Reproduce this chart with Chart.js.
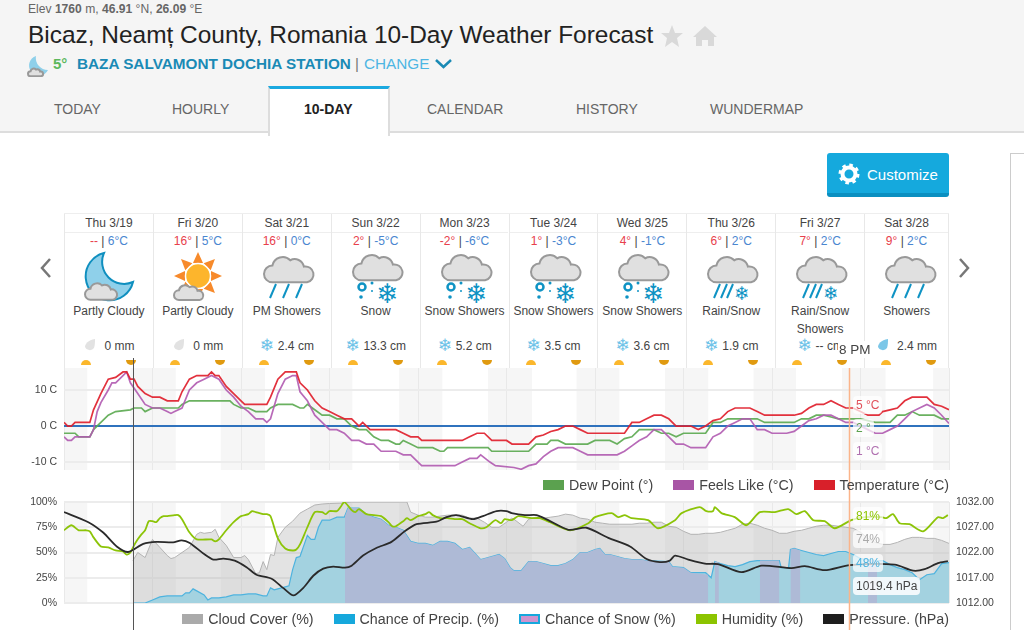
<!DOCTYPE html>
<html>
<head>
<meta charset="utf-8">
<title>Bicaz 10-Day Weather Forecast</title>
<script src="https://cdn.jsdelivr.net/npm/chart.js@4"></script>
<style>
    html, body { margin: 0; padding: 0; background: #fff; overflow: hidden; }
    body { width: 1024px; height: 630px; position: relative; font-family: "Liberation Sans", Arial, sans-serif; color: #333; }
    .abs { position: absolute; white-space: nowrap; }
    #header { position: absolute; left: 0; top: 0; width: 1024px; height: 131px; background: #f5f5f5; border-bottom: 2px solid #ddd; }
    .tab { position: absolute; top: 101px; font-size: 14px; color: #666; }
    #activeTab { position: absolute; left: 268px; top: 86px; width: 118px; height: 47px; background: #fff; border: 2px solid #ddd; border-top: 3px solid #1ba9e0; border-bottom: none; }
    #customize { position: absolute; left: 827px; top: 153px; width: 122px; height: 40px; background: #15a9dd; border-bottom: 4px solid #0b8fc0; border-radius: 3px; color: #fff; font-size: 15px; line-height: 43px; }
    #sidebar { position: absolute; left: 1010px; top: 153px; width: 14px; height: 477px; border-left: 1px solid #ccc; border-top: 1px solid #ccc; }
    #days { position: absolute; left: 64px; top: 213px; width: 885px; height: 154px; border-top: 1px solid #eee; }
    .day { position: absolute; top: 0; height: 154px; border-left: 1px solid #e8e8e8; box-sizing: border-box; text-align: center; font-size: 12px; color: #444; }
    .day:last-child { border-right: 1px solid #e8e8e8; }
    .date { height: 18px; line-height: 18px; border-bottom: 1px solid #eee; }
    .hilo { position: absolute; left: 0; right: 0; top: 20px; }
    .hi { color: #e8404c; }
    .lo { color: #4a86d0; }
    .icon { position: absolute; left: 20px; top: 36px; width: 50px; height: 50px; overflow: visible; }
    .cond { position: absolute; left: 0; right: 0; top: 88px; line-height: 18px; }
    .amount { position: absolute; left: 0; right: 0; top: 124px; }
    .flake { color: #6fc3e8; font-size: 17px; line-height: 14px; vertical-align: -1px; font-family: "DejaVu Sans"; margin-right: 4px; }
    .sun { position: absolute; top: 145px; }
    canvas { position: absolute; left: 0; }
    .legend { position: absolute; right: 75px; display: flex; font-size: 14.25px; color: #444; line-height: 16px; }
    .legend span.item { margin-left: 20px; display: flex; align-items: center; }
    .legend i { display: inline-block; width: 21px; height: 10px; margin-right: 5px; box-sizing: border-box; }
    .tip { position: absolute; background: rgba(255,255,255,.72); border-radius: 4px; padding: 2px 3px; font-size: 12px; line-height: 14px; white-space: nowrap; }
</style>
</head>
<body>
<script>
// Forecast table
const dayLabels = ['Thu 3/19', 'Fri 3/20', 'Sat 3/21', 'Sun 3/22', 'Mon 3/23', 'Tue 3/24', 'Wed 3/25', 'Thu 3/26', 'Fri 3/27', 'Sat 3/28'];
const dayHighs = ['--', '16°', '16°', '2°', '-2°', '1°', '4°', '6°', '7°', '9°'];
const dayLows = ['6°C', '5°C', '0°C', '-5°C', '-6°C', '-3°C', '-1°C', '2°C', '2°C', '2°C'];
const dayConditions = ['Partly Cloudy', 'Partly Cloudy', 'PM Showers', 'Snow', 'Snow Showers', 'Snow Showers', 'Snow Showers', 'Rain/Snow', 'Rain/Snow<br>Showers', 'Showers'];
const dayIcons = ['moon', 'sun', 'rain', 'snow', 'snow', 'snow', 'snow', 'mix', 'mix', 'rain'];
const dayAmounts = ['0 mm', '0 mm', '2.4 cm', '13.3 cm', '5.2 cm', '3.5 cm', '3.6 cm', '1.9 cm', '-- cm', '2.4 mm'];

// Hourly series, each point is [hour since start, value]
const temperature = [[0,1],[1,0],[2,0],[3,1],[7,1],[8,4.5],[10,9],[12,13],[14,13.5],[16,15],[17,15],[18,13],[19,13],[20,11],[22,9],[24,8],[26,8],[28,7],[31,7],[32,9.5],[34,13],[36,14],[39,14],[40,15],[41,14],[42,14],[44,11],[46,9],[48,7],[49,6],[55,6],[56,8],[58,13],[60,15],[63,15],[64,12],[66,10],[68,7],[70,5],[72,4],[74,3],[76,2],[78,2],[80,0],[81,1],[83,-1],[90,-1],[92,-2],[94,-3],[96,-3],[97,-4],[108,-4],[110,-3],[112,-2],[114,-2],[116,-4],[120,-4],[121.5,-5],[126,-5],[128,-3],[130,-2.5],[132,-1.5],[134,-1],[136,0],[138,0],[140,-1],[142,-2],[152,-2],[154,1],[156,1],[158,2],[160,3],[162,3],[164,2],[166,0],[170,0],[172,-1],[174,0],[176,1.5],[178,2],[180,4],[182,5],[186,5],[188,4],[190,3],[198,3],[200,3.5],[202,5],[204,6],[206,6],[208,7],[210,6],[212,5],[214,5],[216,4],[218,3],[221,3],[222,4],[224,4.5],[226,5],[228,7],[230,8],[234,8],[236,6],[238,5.5],[240,4.5]];
const feelsLike = [[0,-3],[1,-4],[2,-4],[3,-3],[7,-3],[8,-1],[9,4],[10,6.5],[12,10],[13,12],[14,12],[16,14],[17,15],[18,12],[20,9],[22,6],[24,5],[26,5],[28,4],[29,3.5],[30,4],[32,5],[34,10],[36,12],[38,13],[40,14],[42,13],[44,10],[46,8],[48,5.5],[50,4],[52,2],[54,2],[55,1],[56,2],[58,9],[60,13],[62,14],[63,14],[64,9.5],[66,7],[68,3],[70,1],[72,-1],[74,-1],[76,-2],[78,-4],[80,-4],[82,-5],[84,-5],[86,-7],[90,-7],[92,-8],[94,-8],[96,-10],[97,-11],[106,-11],[108,-10],[110,-9],[112,-9],[113,-8],[115.5,-10],[117,-11],[122,-11.5],[124,-12],[126,-11],[128,-10.5],[130,-8.5],[132,-7],[134,-6],[138,-6],[140,-7],[142,-8],[150,-8],[152,-7],[154,-5.5],[156,-4],[158,-3],[160,-1],[162,-1],[164,-3],[166,-5],[168,-5],[170,-6],[174,-6],[176,-3],[178,-2],[180,0],[182,1],[184,2],[186,2],[188,-1],[190,-1],[192,-2],[196,-2],[198,-1.5],[200,0],[202,1.5],[204,2],[206,3],[208,3],[210,2],[212,1],[214,1],[216,0],[218,-1],[220,-2],[222,-2],[224,-1],[226,0],[228,2],[230,4],[232,5],[234,6],[236,5],[238,3],[240,0.7]];
const dewPoint = [[0,-2],[3,-2],[4,-3],[7,-3],[8,-1],[10,1],[12,3],[14,4],[18,4.5],[19,5],[21,5],[22,4],[24,5],[31,5],[32,6],[34,7],[45,7],[46,6],[48,5],[50,5],[52,4],[55,4],[56,5],[58,6],[62,6],[64,5],[65,5],[66,6],[68,4.5],[70,3],[72,3],[74,2],[76,2],[78,0],[80,-1],[82,-1],[84,-3],[86,-4],[88,-4],[90,-5],[91,-5],[92,-4],[94,-5],[96,-6],[100,-6],[102,-7],[103,-7],[104,-6],[115,-6],[116,-7],[126,-7],[128,-5],[131,-5],[132,-4],[134,-4],[136,-5],[142,-5],[144,-4],[148,-4],[150,-5],[152,-3.5],[154,-3],[156,-1],[160,-1],[162,-2],[164,-2],[166,-3],[168,-2],[174,-2],[176,1],[178,1],[180,2],[188,2],[190,1],[198,1],[200,2],[202,2],[204,3],[206,3],[208,2.5],[210,2],[216,2],[218,1.5],[220,1],[224,1],[226,3],[228,3],[230,4],[232,3],[236,3],[238,2],[240,2]];
const freezingLine = [[0,0],[240,0]];

const cloudCover = [[18.7,42],[20,50],[22,45],[24,63],[26,55],[28,47],[29,44],[30,45],[32,50],[34,55],[36,68],[37,70],[38,69],[40,70],[41,73],[42,65],[44,57],[46,45],[48,45],[49,47],[50,43],[52,29],[53,30],[54,41],[55,33],[56,48],[57,47],[58,65],[60,75],[62,81],[64,89],[66,93],[68,97],[70,98],[72,98.5],[76,99],[78,100],[93,100],[94,90],[96,87],[98,85],[100,85],[102,86],[104,87],[108,87],[110,84],[112,84],[114,80],[116,75],[118,75],[120,80],[121.4,84],[122,83],[124.5,76],[126,83],[128,85],[130,84],[132,85],[134,86],[136,88],[138,87],[140,84],[142,83],[144,80],[146,79],[148,78],[154,78],[156,79],[158,79],[160,80],[162,80],[164,76],[166,75],[168,71],[170,68],[172,68],[174,69],[176,69],[178,70],[180,72],[182,74],[184,78],[186,79],[188,77],[190,74],[192,72],[194,69],[196,69],[198,71],[200,72],[202,74],[204,76],[206,77],[208,77],[210,76],[212,75],[214,74],[216,70],[218,64],[220,60],[222,58],[224,58],[226,60],[228,63],[230,65],[232,65],[234,64],[236,64],[238,62],[240,59]];
const chancePrecip = [[18.7,0],[22,0],[24,3],[26,6],[28,7],[32,7],[33,10],[34,10],[35,14],[36,12],[38,8],[39,3],[40,5],[42,5],[44,6],[46,8],[48,8],[50,9],[52,9],[54,7],[55,7],[56,15],[57,13],[58,14],[60,16],[61,17],[62,33],[63,45],[64,46],[66,67],[67,63],[68,63],[69,75],[70,82],[72,82],[74,85],[76,85],[77,94],[80,94],[82,88],[84,85],[86,83],[88,77],[90,75],[92,72],[94,61],[96,59],[98,59],[100,57],[102,61],[104,61],[106,59],[108,53],[110,55],[113,43],[115,45],[118,48],[119.5,44],[121,35],[122,32],[124,32],[126,41],[128,41],[130,39],[132,37],[134,37],[136,39],[138,43],[140,50],[142,50],[144,53],[145.3,54],[146.7,48],[148,48],[150,46],[152,44],[154,43],[156,43],[158,42],[164,41],[165,36],[168,35],[170,30],[174,30],[175.5,25],[176.5,41],[178,39],[180,37],[182,36],[184,38],[186,41],[188,42],[194,42],[194.5,35],[196.5,35],[197,53],[198,54],[200,52],[202,50],[204,48],[206,47],[208,49],[210,51],[212,51],[214,48],[216,44],[218,43],[220,42],[222,42],[224,38],[226,35],[228,33],[230,30],[232,23],[234,28],[236,29],[238,39],[240,40]];
// null ends a snow stretch
const chanceSnow = [[76.2,86],[77,94],[80,94],[82,88],[84,85],[86,83],[88,77],[90,75],[92,72],[94,61],[96,59],[98,59],[100,57],[102,61],[104,61],[106,59],[108,53],[110,55],[113,43],[115,45],[118,48],[119.5,44],[121,35],[122,32],[124,32],[126,41],[128,41],[130,39],[132,37],[134,37],[136,39],[138,43],[140,50],[142,50],[144,53],[145.3,54],[146.7,48],[148,48],[150,46],[152,44],[154,43],[156,43],[158,42],[164,41],[165,36],[168,35],[170,30],[174.7,28],[175,null],[176.5,41],[177.6,40],[178,null],[188.7,42],[194,42],[194.2,null],[197,53],[198,54],[199.7,52],[200,null],[218,43],[220.5,42]];
const humidity = [[0,72],[2,77],[4,72],[6,72],[7,71],[8,65],[10,56],[12,55],[14,52],[16,51],[17,48],[18,50],[19,57],[20,63],[21,68],[22,72],[23,81],[24,81],[25,80],[26,84],[27,86],[28,86],[30,87],[31,87],[32,83],[34,70],[36,63],[40,63],[41,61],[42,63],[44,72],[46,80],[48,86],[50,88],[51,91],[52,90],[54,88],[55,88],[56,86],[58,64],[60,54],[62,52],[63,53],[64,58],[66,75],[68,90],[70,90],[71,88],[72,91],[74,91],[75,95],[76,100],[78,92],[79,90],[80,93],[82,88],[84,87],[86,86],[88,80],[89,76],[90,76],[92,81],[93,84],[94,82],[96,86],[98,88],[99,90],[100,87],[102,84],[104,84],[106,83],[108,83],[110,79],[113,74],[114.5,75],[117,82],[118.5,79],[119.5,83],[121.4,82],[123.2,86],[126.8,84],[129,84],[131.8,80],[137.2,72],[142.2,79],[144,85],[148.5,89],[150.3,85],[152.1,87],[153.9,84],[158.4,82],[161.1,74],[165.7,82],[167.5,89],[172.4,95],[174.2,91],[176,91],[176.5,95],[178.3,89],[181.9,85],[185.1,77],[188.7,90],[192.8,90],[196.4,93],[198.6,88],[200.9,91],[203.2,82],[206.3,81],[209,74],[213.5,82],[217.2,85],[221.7,85],[223,84],[224.8,88],[226.6,79],[229.3,78],[233,71],[237,85],[238.4,84],[239.7,87]];
const pressure = [[0,1030],[6.6,1028],[10.7,1025.9],[14.3,1023.2],[17.4,1022.1],[21.5,1023.7],[25.1,1024.1],[29.6,1024],[31.9,1024.4],[34.1,1023.9],[37.8,1021.8],[40.5,1020.6],[43.2,1020.8],[46.3,1020.4],[49.5,1019.1],[52.2,1017.6],[56.3,1016.8],[59.4,1015],[62.2,1013.5],[64.9,1015],[67.6,1017.4],[70.3,1018.8],[73,1019.2],[76.2,1019],[78,1019.4],[81.1,1021.4],[84.7,1022.9],[88.8,1024.1],[92.4,1026.2],[95.6,1027.6],[101,1028.1],[103.7,1029],[106.4,1029.4],[110.9,1028.6],[113.6,1029.2],[117.3,1030.2],[120,1030.2],[121.4,1029.8],[125,1029.4],[128.2,1029.4],[131.3,1028.4],[136.8,1026.5],[141.7,1026.9],[147.6,1024.9],[153.5,1023.2],[158,1020.7],[161.6,1020.1],[164.3,1020.4],[165.7,1021.4],[169.3,1020.6],[173.8,1019.8],[177.4,1019.7],[183.7,1018.1],[189.2,1019.4],[197.3,1018.9],[200.9,1019.3],[206.3,1018.5],[213.1,1019.5],[225.3,1019.6],[230.3,1018.4],[233.4,1018.7],[237,1019.9],[239.7,1020.3]];

// Night shading and axis ticks
const nightStarts = [0, 18, 42.5, 66.7, 90.9, 115, 139, 163, 187, 211, 235.7];
const nightEnds = [6.3, 30.3, 54.5, 78.2, 102.6, 126.9, 150.6, 174.7, 198.5, 222.8, 240];
const tempTicks = [-10, 0, 10];
const selectedHour = 18.7;
const hoverHour = 212.9;

const legendTop = [['Dew Point (°)', '#5ba14f', ''], ['Feels Like (°C)', '#a855a5', ''], ['Temperature (°C)', '#d8202a', '']];
const legendBottom = [['Cloud Cover (%)', '#aaaaaa', ''], ['Chance of Precip. (%)', '#16a8dc', ''], ['Chance of Snow (%)', '#cf94cf', '2px solid #16a8dc'], ['Humidity (%)', '#8cc400', ''], ['Pressure. (hPa)', '#1e1e1e', '']];

const tipsTop = [['5 °C', '#e0505a', 405], ['2 °', '#5ba14f', 428], ['1 °C', '#b070b0', 451]];
const tipsBottom = [['81%', '#8cc400', 516], ['74%', '#aaaaaa', 539], ['48%', '#4db3df', 563]];

const grey = '#e0e0e0';
const cloudSvg = (x, y, s) => `<g transform="translate(${x},${y}) scale(${s})"><path d="M8 26 a8 8 0 0 1 0-16 a10 10 0 0 1 17-5 a9 9 0 0 1 13 6 a7.5 7.5 0 0 1 3 15 z" fill="${grey}" stroke="#999" stroke-width="${2 / s}"/></g>`;
const rainSvg = (xs) => xs.map(x => `<line x1="${x + 4}" y1="34" x2="${x - 2}" y2="48" stroke="#0f93c4" stroke-width="2"/>`).join('');
const flakeSvg = (x, y, size) => `<text x="${x}" y="${y}" font-family="DejaVu Sans" font-size="${size}" fill="#0f93c4">❄</text>`;

function iconFor(kind) {
    if (kind === 'moon') {
        return `<path d="M19 3 A24 24 0 1 0 48 32 A22 22 0 0 1 19 3 z" fill="#8fd0ea" stroke="#0f8fbf" stroke-width="2"/>` + cloudSvg(0, 32, 0.68);
    }
    if (kind === 'sun') {
        const rays = [0, 45, 90, 135, 180, 225, 270, 315].map(a =>
            `<path d="M-5 -13 L0 -24 L5 -13 z" fill="#f78a2b" transform="translate(24,26) rotate(${a})"/>`).join('');
        return rays + `<circle cx="24" cy="26" r="12.5" fill="#fdb52c" stroke="#fff" stroke-width="1.5"/>` + cloudSvg(0, 34, 0.62);
    }
    if (kind === 'rain') return cloudSvg(1, 5, 1.05) + rainSvg([9, 22, 35]);
    if (kind === 'mix') return cloudSvg(1, 5, 1.05) + rainSvg([9, 16, 22]) + flakeSvg(27, 50, 19);
    // snow
    return cloudSvg(1, 3, 1.05) + flakeSvg(24, 53, 27) + `<circle cx="10" cy="37" r="3.5" fill="none" stroke="#0f93c4" stroke-width="2.5"/><circle cx="20" cy="33" r="1.5" fill="#0f93c4"/><circle cx="9" cy="47" r="1.8" fill="#0f93c4"/><circle cx="20" cy="41" r="1" fill="#0f93c4"/>`;
}

function buildHeader() {
    const moon = `<svg class="abs" style="left:27px;top:55px" width="22" height="22"><path d="M9 1 A10 10 0 1 0 21 15 A12 12 0 0 1 9 1 z" fill="#8fd0ea"/>${cloudSvg(1, 13, 0.32)}</svg>`;
    document.body.insertAdjacentHTML('beforeend', `
    <div id="header">
        <div class="abs" style="left:28px;top:2px;font-size:12.1px;color:#666">Elev <b>1760</b> m, <b>46.91</b> °N, <b>26.09</b> °E</div>
        <div class="abs" style="left:28px;top:21px;font-size:24.45px;color:#222">Bicaz, Neamț County, Romania 10-Day Weather Forecast</div>
        <svg class="abs" style="left:660px;top:24px" width="60" height="24">
            <path d="M12 1 L15 9 L23 9 L17 14 L19 23 L12 18 L5 23 L7 14 L1 9 L9 9 z" fill="#d9d9d9"/>
            <path d="M45 2 L57 13 L54 13 L54 22 L48 22 L48 16 L42 16 L42 22 L36 22 L36 13 L33 13 z" fill="#d9d9d9"/>
        </svg>
        ${moon}
        <div class="abs" style="left:53px;top:55px;font-size:15px;font-weight:bold;color:#5cb85c">5°</div>
        <div class="abs" style="left:77px;top:55px;font-size:15.3px;font-weight:bold;color:#1a8ab5">BAZA SALVAMONT DOCHIA STATION</div>
        <div class="abs" style="left:355px;top:55px;font-size:15px;color:#777">|</div>
        <div class="abs" style="left:364px;top:55px;font-size:15.3px;color:#4db6e3">CHANGE</div>
        <svg class="abs" style="left:434px;top:57px" width="20" height="14"><polyline points="2,3 9.5,10 17,3" fill="none" stroke="#1a8ab5" stroke-width="2.5"/></svg>
        <div class="tab" style="left:54px">TODAY</div>
        <div class="tab" style="left:172px">HOURLY</div>
        <div id="activeTab"></div>
        <div class="tab" style="left:304px;color:#222;font-weight:bold">10-DAY</div>
        <div class="tab" style="left:427px">CALENDAR</div>
        <div class="tab" style="left:576px">HISTORY</div>
        <div class="tab" style="left:710px">WUNDERMAP</div>
    </div>
    <div id="customize">
        <svg class="abs" style="left:11px;top:10px" width="22" height="22" viewBox="0 0 22 22"><circle cx="11" cy="11" r="6.5" fill="none" stroke="#fff" stroke-width="4"/><circle cx="11" cy="11" r="9" fill="none" stroke="#fff" stroke-width="3" stroke-dasharray="3.5 3.57"/></svg>
        <span class="abs" style="left:40px">Customize</span>
    </div>
    <div id="sidebar"></div>
    <svg class="abs" style="left:38px;top:257px" width="16" height="22"><polyline points="12,2 4,11 12,20" fill="none" stroke="#777" stroke-width="2.5"/></svg>
    <svg class="abs" style="left:956px;top:257px" width="16" height="22"><polyline points="4,2 12,11 4,20" fill="none" stroke="#777" stroke-width="2.5"/></svg>`);
}

function buildDays() {
    const colWidth = 88.9;
    let html = '<div id="days">';
    dayLabels.forEach((label, i) => {
        const mm = dayAmounts[i].endsWith('mm');
        const wet = dayAmounts[i] === '2.4 mm';
        const lead = mm
            ? `<svg width="14" height="14" style="vertical-align:-2px;margin-right:7px"><path d="M12 1 C5 2 2 6 2 9 a5 4.5 0 0 0 9 1 C12 7 12 4 12 1 z" fill="${wet ? '#7cc7e8' : '#e2e2e2'}"/></svg>`
            : '<span class="flake">❄</span>';
        const width = i === 9 ? 885 - colWidth * 9 : colWidth;
        html += `<div class="day" style="left:${colWidth * i}px;width:${width}px">
            <div class="date">${label}</div>
            <div class="hilo"><span class="hi">${dayHighs[i]}</span> | <span class="lo">${dayLows[i]}</span></div>
            <svg class="icon" viewBox="0 0 50 50">${iconFor(dayIcons[i])}</svg>
            <div class="cond">${dayConditions[i]}</div>
            <div class="amount">${lead}${dayAmounts[i]}</div>
            <svg class="sun" style="left:15px" width="12" height="6"><path d="M1 6 a5 5 0 0 1 10 0 z" fill="#fbb72c"/></svg>
            <svg class="sun" style="left:60px" width="12" height="6"><path d="M1 1 a5 5 0 0 0 10 0 z" fill="#e09a10"/></svg>
        </div>`;
    });
    document.body.insertAdjacentHTML('beforeend', html + '</div>');
}

function buildLegend(items, top) {
    const row = items.map(([text, color, border]) =>
        `<span class="item"><i style="background:${color};${border ? 'border:' + border : ''}"></i>${text}</span>`).join('');
    document.body.insertAdjacentHTML('beforeend', `<div class="legend" style="top:${top}px">${row}</div>`);
}

function buildTips() {
    tipsTop.concat(tipsBottom).forEach(([text, color, y]) => {
        document.body.insertAdjacentHTML('beforeend', `<div class="tip" style="left:853px;top:${y - 9}px;color:${color}">${text}</div>`);
    });
    document.body.insertAdjacentHTML('beforeend', `<div class="tip" style="left:853px;top:577px;color:#444;background:rgba(255,255,255,.85);padding:2px 3px">1019.4 hPa</div>`);
    document.body.insertAdjacentHTML('beforeend', `<div class="abs" style="left:838px;top:341px;background:#fff;padding:0 1px;font-size:13.5px;line-height:17px;color:#444;z-index:3">8 PM</div>`);
}

// Turns a [hour, value] list into Chart.js points
const toPoints = (series) => series.map(([x, y]) => ({ x, y }));

// Fixed axis width, and no extra room for half a label above and below the plot
function fitAxis(width) {
    return function (axis) {
        axis.width = width;
        axis.paddingTop = 0;
        axis.paddingBottom = 0;
    };
}

// Shades the nights behind the grid, and draws the two cursor lines on top
const bandsAndCursors = {
    id: 'bandsAndCursors',
    beforeDraw(chart) {
        const { ctx, chartArea, scales } = chart;
        ctx.save();
        ctx.fillStyle = '#f6f6f6';
        nightStarts.forEach((start, i) => {
            const x0 = scales.x.getPixelForValue(start);
            const x1 = scales.x.getPixelForValue(nightEnds[i]);
            ctx.fillRect(x0, chartArea.top, x1 - x0, chartArea.bottom - chartArea.top);
        });
        ctx.restore();
    },
    afterDraw(chart) {
        const { ctx, scales, height } = chart;
        const hoverTop = chart.canvas.id === 'tempChart' ? chart.chartArea.top : 0;
        ctx.save();
        ctx.lineWidth = 1;
        ctx.strokeStyle = '#555';
        const sx = Math.round(scales.x.getPixelForValue(selectedHour)) + 0.5;
        ctx.beginPath();
        ctx.moveTo(sx, 0);
        ctx.lineTo(sx, height);
        ctx.stroke();
        ctx.lineWidth = 1.5;
        ctx.strokeStyle = '#fbb48a';
        const hx = Math.round(scales.x.getPixelForValue(hoverHour)) + 0.5;
        ctx.beginPath();
        ctx.moveTo(hx, hoverTop);
        ctx.lineTo(hx, height);
        ctx.stroke();
        ctx.restore();
    }
};

const xAxis = {
    type: 'linear',
    min: 0,
    max: 240,
    afterFit(axis) { axis.height = 0; },
    border: { display: false },
    grid: { color: '#e9e9e9', drawTicks: false },
    ticks: { display: false, stepSize: 24, autoSkip: false }
};

function lineSet(label, series, color, width) {
    return { label, data: toPoints(series), borderColor: color, borderWidth: width, pointRadius: 0, tension: 0, fill: false };
}

function renderTempChart() {
    const canvas = document.createElement('canvas');
    canvas.id = 'tempChart';
    canvas.width = 1000;
    canvas.height = 132;
    canvas.style.top = '358px';
    document.body.appendChild(canvas);

    new Chart(canvas, {
        type: 'line',
        data: {
            datasets: [
                lineSet('Temperature (°C)', temperature, 'rgba(224,31,45,.92)', 1.7),
                lineSet('Feels Like (°C)', feelsLike, 'rgba(176,90,176,.9)', 1.7),
                lineSet('Dew Point (°)', dewPoint, 'rgba(90,168,79,.9)', 1.7),
                lineSet('Freezing', freezingLine, '#2f72bd', 2)
            ]
        },
        options: {
            responsive: false,
            animation: false,
            events: [],
            layout: { padding: { top: 10, bottom: 20, right: 51 } },
            plugins: { legend: { display: false }, tooltip: { enabled: false } },
            scales: {
                x: xAxis,
                y: {
                    min: -12.2,
                    max: 16.1,
                    afterFit: fitAxis(64),
                    afterBuildTicks(axis) { axis.ticks = tempTicks.map(value => ({ value })); },
                    border: { display: false },
                    grid: { color: '#ececec', lineWidth: 2, drawTicks: false },
                    ticks: { color: '#444', font: { family: 'Liberation Sans', size: 10.5 }, padding: 7, callback: v => `${v} C` }
                }
            }
        },
        plugins: [bandsAndCursors]
    });
}

function renderWeatherChart() {
    const canvas = document.createElement('canvas');
    canvas.id = 'weatherChart';
    canvas.width = 1000;
    canvas.height = 140;
    canvas.style.top = '490px';
    document.body.appendChild(canvas);

    const humidityLine = lineSet('Humidity (%)', humidity, '#8cc408', 1.8);
    humidityLine.yAxisID = 'y';
    humidityLine.tension = 0.25;
    const pressureLine = lineSet('Pressure. (hPa)', pressure, '#2a2a2a', 1.8);
    pressureLine.yAxisID = 'yPressure';
    pressureLine.tension = 0.25;

    new Chart(canvas, {
        type: 'line',
        data: {
            datasets: [
                pressureLine,
                humidityLine,
                { label: 'Chance of Snow (%)', data: toPoints(chanceSnow), borderWidth: 0, borderColor: 'transparent', backgroundColor: '#aebad6', pointRadius: 0, fill: 'origin', spanGaps: false, yAxisID: 'y' },
                { label: 'Chance of Precip. (%)', data: toPoints(chancePrecip), borderWidth: 1.2, borderColor: '#4db3df', backgroundColor: '#a3d2e0', pointRadius: 0, fill: 'origin', yAxisID: 'y' },
                { label: 'Cloud Cover (%)', data: toPoints(cloudCover), borderWidth: 1, borderColor: '#b4b4b4', backgroundColor: 'rgba(170,170,170,.33)', pointRadius: 0, fill: 'origin', yAxisID: 'y' }
            ]
        },
        options: {
            responsive: false,
            animation: false,
            events: [],
            layout: { padding: { top: 12, bottom: 27 } },
            plugins: { legend: { display: false }, tooltip: { enabled: false } },
            scales: {
                x: xAxis,
                y: {
                    min: 0,
                    max: 100,
                    afterFit: fitAxis(64),
                    border: { display: false },
                    grid: { color: '#ececec', lineWidth: 2, drawTicks: false },
                    ticks: { color: '#444', stepSize: 25, font: { family: 'Liberation Sans', size: 10.5 }, padding: 7, callback: v => `${v}%` }
                },
                yPressure: {
                    position: 'right',
                    min: 1012,
                    max: 1032,
                    afterFit: fitAxis(51),
                    border: { display: false },
                    grid: { drawOnChartArea: false, drawTicks: false },
                    ticks: { color: '#444', stepSize: 5, font: { family: 'Liberation Sans', size: 10.5 }, padding: 7, callback: v => v.toFixed(2) }
                }
            }
        },
        plugins: [bandsAndCursors]
    });
}

buildHeader();
buildDays();
renderTempChart();
renderWeatherChart();
buildLegend(legendTop, 477);
buildLegend(legendBottom, 611);
buildTips();
</script>
</body>
</html>
